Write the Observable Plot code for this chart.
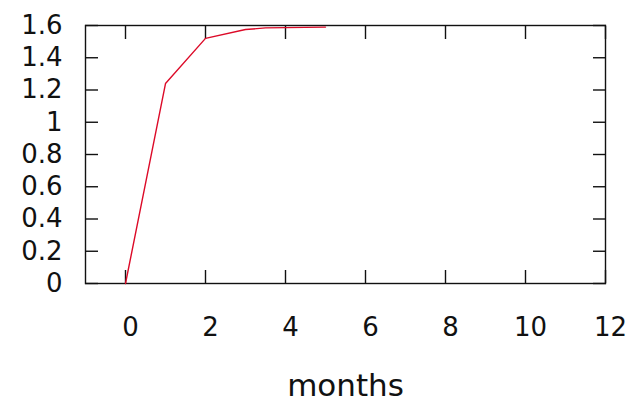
<!DOCTYPE html>
<html>
<head>
<meta charset="utf-8">
<script src="https://cdn.jsdelivr.net/npm/d3@7"></script>
<script src="https://cdn.jsdelivr.net/npm/@observablehq/plot@0.6"></script>
<style>
  html, body { margin: 0; padding: 0; background: #fff; }
  #chart { width: 632px; height: 412px; }
</style>
</head>
<body>
<div id="chart"></div>
<script>
const months = [0, 1, 2, 3, 3.5, 5];
const values = [0, 1.24, 1.52, 1.575, 1.585, 1.59];
const xTicks = [0, 2, 4, 6, 8, 10, 12];
const yTicks = [0, 0.2, 0.4, 0.6, 0.8, 1, 1.2, 1.4, 1.6];
const xLabel = "months";

const data = months.map((m, i) => ({month: m, value: values[i]}));
const font = "DejaVu Sans, Verdana, sans-serif";

const chart = Plot.plot({
  width: 632,
  height: 412,
  marginLeft: 85,
  marginRight: 27,
  marginTop: 25,
  marginBottom: 129,
  style: {fontFamily: font, background: "#fff", color: "#111"},
  x: {domain: [-1, 12]},
  y: {domain: [0, 1.6]},
  marks: [
    Plot.frame({stroke: "#111", strokeWidth: 1.4}),
    // inward ticks on all four sides
    Plot.axisX({anchor: "bottom", ticks: xTicks, tickSize: -13, tickFormat: () => "", label: null, stroke: "#111", strokeWidth: 1.4}),
    Plot.axisX({anchor: "top", ticks: xTicks, tickSize: -13, tickFormat: () => "", label: null, stroke: "#111", strokeWidth: 1.4}),
    Plot.axisY({anchor: "left", ticks: yTicks, tickSize: -13, tickFormat: () => "", label: null, stroke: "#111", strokeWidth: 1.4}),
    Plot.axisY({anchor: "right", ticks: yTicks, tickSize: -13, tickFormat: () => "", label: null, stroke: "#111", strokeWidth: 1.4}),
    // tick labels
    Plot.axisX({anchor: "bottom", ticks: xTicks, tickSize: 0, tickPadding: 34, dx: 5, fontSize: 26, tickFormat: d => String(d), label: null, fill: "#111"}),
    Plot.axisY({anchor: "left", ticks: yTicks, tickSize: 0, tickPadding: 23, fontSize: 26, tickFormat: d => String(d), label: null, fill: "#111"}),
    Plot.text([xLabel], {frameAnchor: "bottom", dy: 90, fontSize: 31, text: d => d, fill: "#111", lineAnchor: "top"}),
    Plot.line(data, {x: "month", y: "value", stroke: "#dc0a28", strokeWidth: 1.4})
  ]
});
document.getElementById("chart").appendChild(chart);
</script>
</body>
</html>
